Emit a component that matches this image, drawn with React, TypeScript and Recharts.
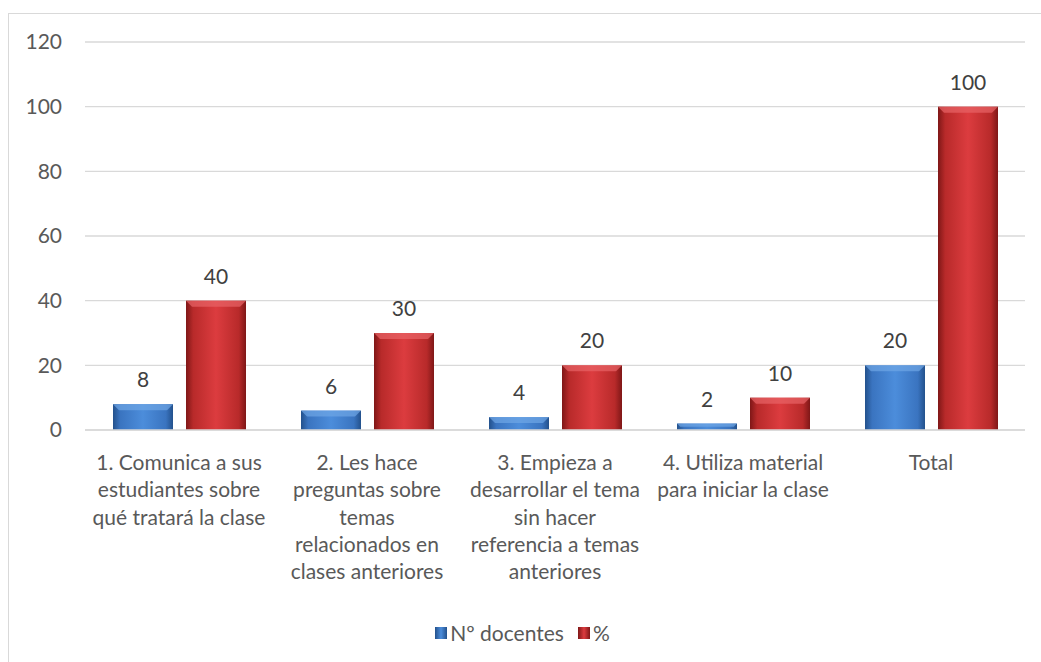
import React from "react";
import {
  BarChart,
  Bar,
  XAxis,
  YAxis,
  CartesianGrid,
  Legend,
  LabelList,
} from "recharts";

const categories = [
  "1. Comunica a sus\nestudiantes sobre\nqué tratará la clase",
  "2. Les hace\npreguntas sobre\ntemas\nrelacionados en\nclases anteriores",
  "3. Empieza a\ndesarrollar el tema\nsin hacer\nreferencia a temas\nanteriores",
  "4. Utiliza material\npara iniciar la clase",
  "Total",
];
const docentes = [8, 6, 4, 2, 20];
const porcentaje = [40, 30, 20, 10, 100];
const yTicks = [0, 20, 40, 60, 80, 100, 120];

const data = categories.map((name, i) => ({
  name,
  docentes: docentes[i],
  pct: porcentaje[i],
}));

const FONT = "Lato, 'Liberation Sans', sans-serif";
const TEXT = "#595959";
const SIZE = 21;

const palette = {
  blue: { dark: "#23518c", mid: "#3a74c0", light: "#4c8ddb", top: "#6fa6e6" },
  red: { dark: "#7f1717", mid: "#b82a2a", light: "#dc3c3f", top: "#e86466" },
};

// bar with horizontal shading and a small top bevel, like the office 3D style
const makeShape = (key: "blue" | "red") => (props: any) => {
  const { x, y, width, height } = props;
  if (!height || height <= 0) return <g />;
  const bevel = Math.min(6, height / 2);
  return (
    <g>
      <rect x={x} y={y} width={width} height={height} fill={`url(#grad-${key})`} />
      <polygon
        points={`${x},${y} ${x + width},${y} ${x + width - bevel},${y + bevel} ${x + bevel},${y + bevel}`}
        fill={palette[key].top}
        opacity={0.7}
      />
    </g>
  );
};

const CategoryTick = (props: any) => {
  const { x, y, payload } = props;
  const lines = String(payload.value).split("\n");
  return (
    <text x={x} y={y} textAnchor="middle" fill={TEXT} fontSize={SIZE} fontFamily={FONT}>
      {lines.map((line, i) => (
        <tspan key={i} x={x} dy={i === 0 ? 40 : 27.3}>
          {line}
        </tspan>
      ))}
    </text>
  );
};

const LegendContent = () => (
  <div
    style={{
      display: "flex",
      justifyContent: "center",
      alignItems: "center",
      fontFamily: FONT,
      fontSize: SIZE,
      color: TEXT,
    }}
  >
    <span style={{ display: "inline-block", width: 12, height: 12, marginRight: 3, background: `linear-gradient(90deg, ${palette.blue.dark}, ${palette.blue.light}, ${palette.blue.dark})` }} />
    <span style={{ marginRight: 14 }}>Nº docentes</span>
    <span style={{ display: "inline-block", width: 12, height: 12, marginRight: 3, background: `linear-gradient(90deg, ${palette.red.dark}, ${palette.red.light}, ${palette.red.dark})` }} />
    <span>%</span>
  </div>
);

const gradient = (key: "blue" | "red") => {
  const c = palette[key];
  return (
    <linearGradient id={`grad-${key}`} x1="0" y1="0" x2="1" y2="0">
      <stop offset="0%" stopColor={c.dark} />
      <stop offset="12%" stopColor={c.mid} />
      <stop offset="50%" stopColor={c.light} />
      <stop offset="88%" stopColor={c.mid} />
      <stop offset="100%" stopColor={c.dark} />
    </linearGradient>
  );
};

export default function App() {
  return (
    <div
      style={{
        position: "absolute",
        left: 0,
        top: 0,
        width: 1041,
        height: 662,
        background: "#fff",
        overflow: "hidden",
      }}
    >
      <div
        style={{
          position: "absolute",
          left: 8,
          top: 13,
          width: 1100,
          height: 700,
          borderTop: "1px solid #d9d9d9",
          borderLeft: "1px solid #d9d9d9",
        }}
      />
      <BarChart
        width={1041}
        height={662}
        data={data}
        margin={{ top: 42, right: 16, left: 20, bottom: 20 }}
        barSize={60}
        barGap={13}
        style={{ position: "absolute", left: 0, top: 0 }}
      >
        <defs>
          {gradient("blue")}
          {gradient("red")}
        </defs>
        <CartesianGrid vertical={false} stroke="#d9d9d9" strokeWidth={1.3} />
        <XAxis
          dataKey="name"
          interval={0}
          height={187}
          tickLine={false}
          tickSize={0}
          tickMargin={0}
          axisLine={{ stroke: "#d9d9d9", strokeWidth: 1.3 }}
          tick={<CategoryTick />}
        />
        <YAxis
          width={65}
          domain={[0, 120]}
          ticks={yTicks}
          axisLine={false}
          tickLine={false}
          tickSize={0}
          tickMargin={23}
          tick={{ fill: TEXT, fontSize: SIZE, fontFamily: FONT }}
        />
        <Legend verticalAlign="bottom" content={<LegendContent />} wrapperStyle={{ bottom: 17 }} />
        <Bar dataKey="docentes" name="Nº docentes" shape={makeShape("blue")} isAnimationActive={false}>
          <LabelList dataKey="docentes" position="top" offset={17} fill="#404040" fontSize={SIZE} fontFamily={FONT} />
        </Bar>
        <Bar dataKey="pct" name="%" shape={makeShape("red")} isAnimationActive={false}>
          <LabelList dataKey="pct" position="top" offset={17} fill="#404040" fontSize={SIZE} fontFamily={FONT} />
        </Bar>
      </BarChart>
    </div>
  );
}
